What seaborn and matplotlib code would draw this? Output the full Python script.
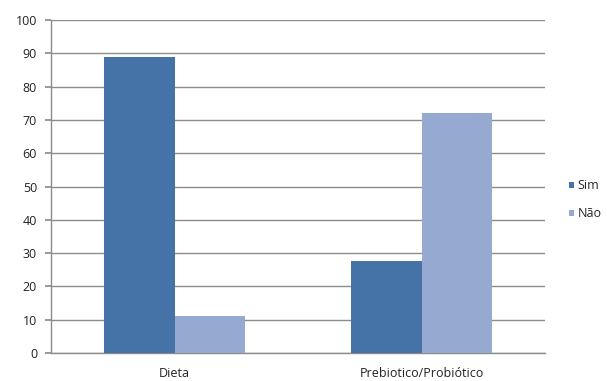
import matplotlib.pyplot as plt
import pandas as pd
import seaborn as sns

categorias = ["Dieta", "Prebiotico/Probiótico"]
sim = [89, 27.5]
nao = [11, 72]
series = ["Sim", "Não"]

df = pd.DataFrame({
    "categoria": categorias * 2,
    "valor": sim + nao,
    "resposta": [series[0]] * len(categorias) + [series[1]] * len(categorias),
})

sns.set_theme(style="white")
plt.rcParams["font.family"] = ["Open Sans", "DejaVu Sans"]

fig = plt.figure(figsize=(6.07, 3.81), dpi=100)
ax = fig.add_axes([51 / 607, 28 / 381, 494 / 607, 333 / 381])

sns.barplot(
    data=df, x="categoria", y="valor", hue="resposta",
    palette=["#4572A7", "#95A9D1"], width=0.57, ax=ax, legend=True,
    saturation=1, zorder=3, linewidth=0,
)

ax.set_xlim(-0.5, 1.5)
ax.set_ylim(0, 100)
ax.set_yticks(range(0, 101, 10))
ax.yaxis.grid(True, color="#8c8c8c", linewidth=1)
ax.set_axisbelow(True)
ax.set_xlabel("")
ax.set_ylabel("")
for s in ["top", "right"]:
    ax.spines[s].set_visible(False)
for s in ["left", "bottom"]:
    ax.spines[s].set_color("#8c8c8c")
    ax.spines[s].set_linewidth(1)
ax.tick_params(axis="y", left=True, length=4, color="#8c8c8c", labelsize=9, pad=6, labelcolor="#222222")
ax.tick_params(axis="x", bottom=False, labelsize=9, pad=4, labelcolor="#222222")

leg = ax.legend(loc="center left", bbox_to_anchor=(1.025, 0.46), frameon=False,
                fontsize=9, handlelength=0.45, handleheight=0.45, handletextpad=0.25,
                labelspacing=1.2)

fig.savefig("out.png", dpi=100)
